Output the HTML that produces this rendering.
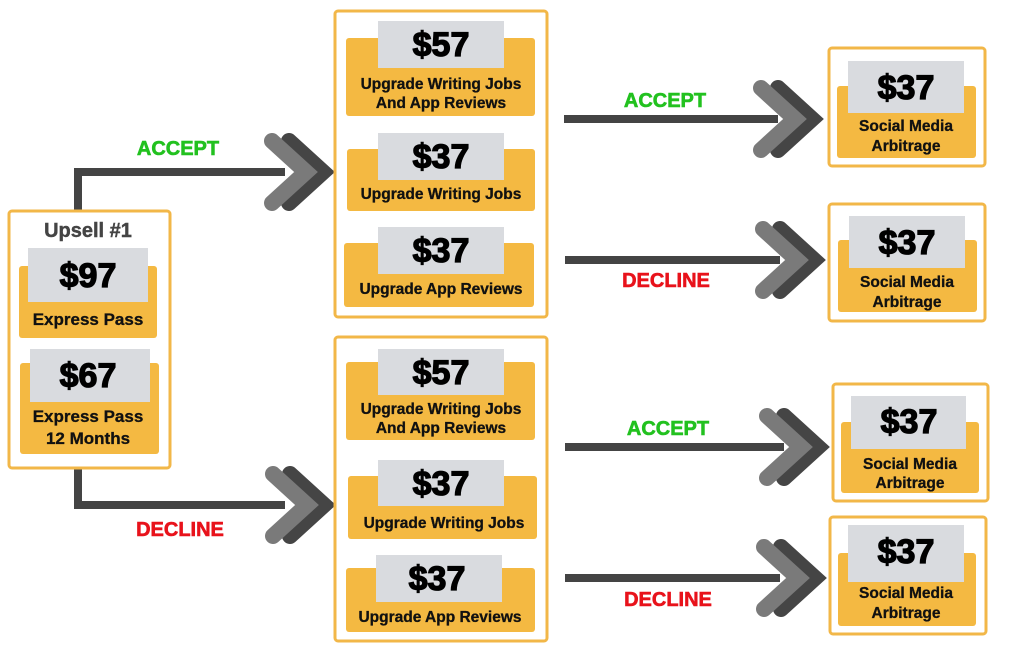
<!DOCTYPE html>
<html><head><meta charset="utf-8"><style>
html,body{margin:0;padding:0;background:#fff;width:1024px;height:652px;overflow:hidden}
svg text{font-family:"Liberation Sans",sans-serif;font-weight:bold;text-anchor:middle}
.p{font-size:34px;fill:#000;stroke:#000;stroke-width:1.3}
.l{font-size:15.5px;fill:#111;stroke:#111;stroke-width:0.3}
.a{font-size:20px;fill:#22c11f;stroke:#22c11f;stroke-width:0.6}
.d{font-size:20px;fill:#e8121b;stroke:#e8121b;stroke-width:0.6}
.bx{fill:#fff;stroke:#f2b748;stroke-width:3}
.o{fill:#f4b942}
.g{fill:#d9dbdf}
.ln{stroke:#444;stroke-width:8;fill:none}
</style></head><body>
<svg width="1024" height="652" viewBox="0 0 1024 652" xmlns="http://www.w3.org/2000/svg">
<defs>
<g id="chev">
<polyline points="-44,-31 -10,0 -44,31" fill="none" stroke="#454545" stroke-width="16" stroke-linejoin="miter" stroke-linecap="round"/>
<polyline points="-61,-31 -27,0 -61,31" fill="none" stroke="#7a7a7a" stroke-width="16" stroke-linejoin="miter" stroke-linecap="round"/>
</g>
</defs>

<polyline class="ln" points="78,210 78,172 285,172"/>
<polyline class="ln" points="78,468 78,505 285,505"/>
<use href="#chev" x="333" y="172"/>
<use href="#chev" x="334" y="505"/>
<text class="a" x="178" y="155">ACCEPT</text>
<text class="d" x="180" y="536">DECLINE</text>

<rect class="bx" x="9" y="211" width="161" height="257" rx="3"/>
<text x="88" y="237" style="font-size:20px;fill:#444;stroke:#444;stroke-width:0.4">Upsell #1</text>
<rect class="o" x="19" y="266" width="138" height="72" rx="3"/>
<rect class="g" x="28" y="248" width="120" height="54"/>
<text class="p" x="88" y="287">$97</text>
<text class="l" x="88" y="325" style="font-size:17px">Express Pass</text>
<rect class="o" x="20" y="363" width="139" height="91" rx="3"/>
<rect class="g" x="30" y="349" width="120" height="53"/>
<text class="p" x="88" y="387">$67</text>
<text class="l" x="88" y="422" style="font-size:17px">Express Pass</text>
<text class="l" x="88" y="444" style="font-size:17px">12 Months</text>

<rect class="bx" x="335" y="11" width="212" height="306" rx="3"/>
<rect class="o" x="346" y="38" width="189" height="78" rx="3"/>
<rect class="g" x="378" y="21" width="126" height="47"/>
<text class="p" x="441" y="56">$57</text>
<text class="l" x="441" y="89">Upgrade Writing Jobs</text>
<text class="l" x="441" y="108">And App Reviews</text>
<rect class="o" x="347" y="149" width="188" height="62" rx="3"/>
<rect class="g" x="378" y="133" width="126" height="47"/>
<text class="p" x="441" y="168">$37</text>
<text class="l" x="441" y="199">Upgrade Writing Jobs</text>
<rect class="o" x="344" y="243" width="190" height="64" rx="3"/>
<rect class="g" x="378" y="227" width="126" height="47"/>
<text class="p" x="441" y="262">$37</text>
<text class="l" x="441" y="294">Upgrade App Reviews</text>

<rect class="bx" x="335" y="337" width="212" height="304" rx="3"/>
<rect class="o" x="346" y="362" width="189" height="78" rx="3"/>
<rect class="g" x="378" y="349" width="126" height="46"/>
<text class="p" x="441" y="384">$57</text>
<text class="l" x="441" y="414">Upgrade Writing Jobs</text>
<text class="l" x="441" y="433">And App Reviews</text>
<rect class="o" x="348" y="476" width="189" height="63" rx="3"/>
<rect class="g" x="378" y="460" width="126" height="46"/>
<text class="p" x="441" y="495">$37</text>
<text class="l" x="444" y="528">Upgrade Writing Jobs</text>
<rect class="o" x="346" y="568" width="189" height="64" rx="3"/>
<rect class="g" x="376" y="555" width="126" height="47"/>
<text class="p" x="437" y="590">$37</text>
<text class="l" x="440" y="622">Upgrade App Reviews</text>

<line class="ln" x1="564" y1="119" x2="778" y2="119"/>
<line class="ln" x1="565" y1="260" x2="780" y2="260"/>
<line class="ln" x1="565" y1="447" x2="784" y2="447"/>
<line class="ln" x1="565" y1="578" x2="780" y2="578"/>
<use href="#chev" x="822" y="119"/>
<use href="#chev" x="824" y="260"/>
<use href="#chev" x="828" y="447"/>
<use href="#chev" x="825" y="578"/>
<text class="a" x="665" y="107">ACCEPT</text>
<text class="d" x="666" y="287">DECLINE</text>
<text class="a" x="668" y="435">ACCEPT</text>
<text class="d" x="668" y="606">DECLINE</text>

<rect class="bx" x="829" y="48" width="156" height="118" rx="3"/>
<rect class="o" x="837" y="86" width="139" height="72" rx="3"/>
<rect class="g" x="848" y="61" width="116" height="52"/>
<text class="p" x="906" y="99">$37</text>
<text class="l" x="906" y="131">Social Media</text>
<text class="l" x="906" y="151">Arbitrage</text>

<rect class="bx" x="829" y="204" width="156" height="117" rx="3"/>
<rect class="o" x="838" y="240" width="139" height="72" rx="3"/>
<rect class="g" x="849" y="216" width="116" height="52"/>
<text class="p" x="907" y="254">$37</text>
<text class="l" x="907" y="287">Social Media</text>
<text class="l" x="907" y="307">Arbitrage</text>

<rect class="bx" x="833" y="384" width="155" height="117" rx="3"/>
<rect class="o" x="841" y="422" width="138" height="71" rx="3"/>
<rect class="g" x="851" y="396" width="115" height="53"/>
<text class="p" x="909" y="433">$37</text>
<text class="l" x="910" y="469">Social Media</text>
<text class="l" x="910" y="488">Arbitrage</text>

<rect class="bx" x="830" y="517" width="156" height="117" rx="3"/>
<rect class="o" x="838" y="553" width="138" height="73" rx="3"/>
<rect class="g" x="848" y="525" width="116" height="57"/>
<text class="p" x="906" y="563">$37</text>
<text class="l" x="906" y="598">Social Media</text>
<text class="l" x="906" y="618">Arbitrage</text>
</svg>
</body></html>
